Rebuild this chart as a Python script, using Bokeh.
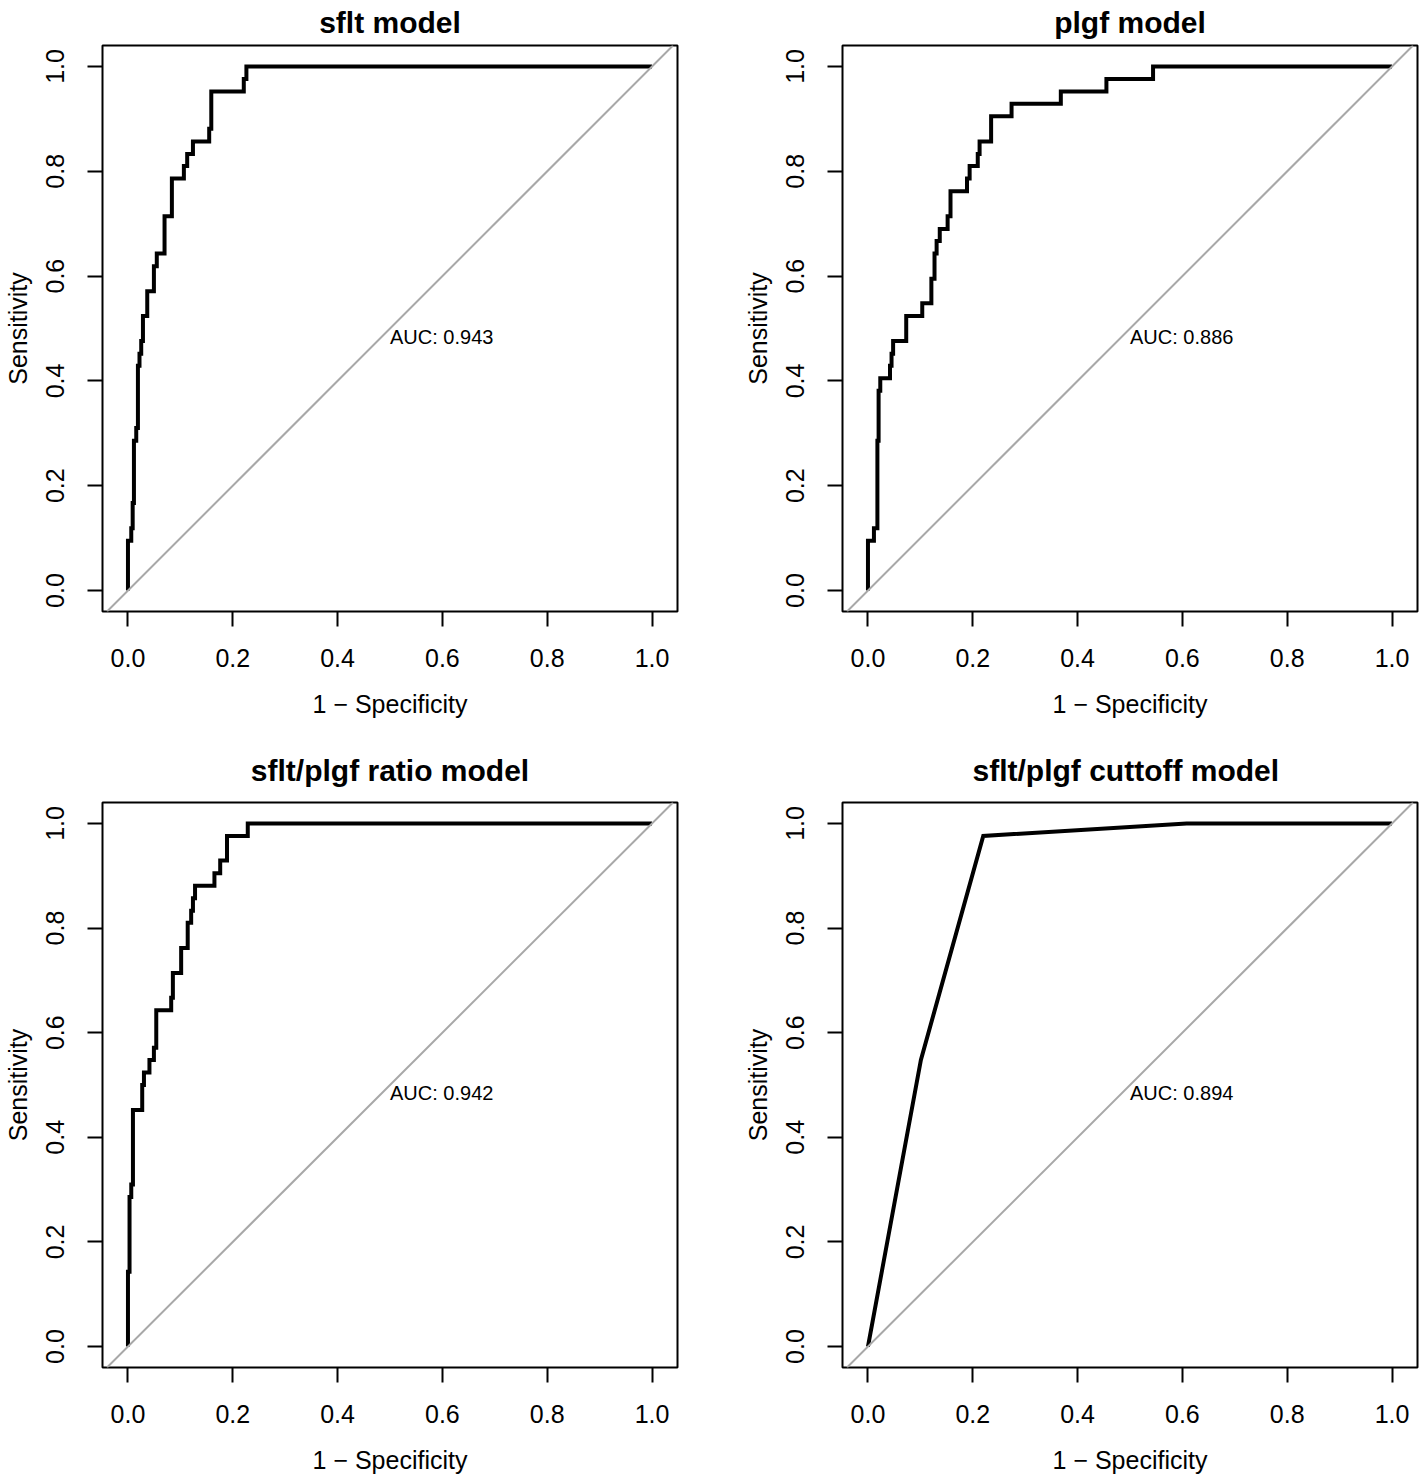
from bokeh.plotting import figure
from bokeh.models import Range1d, FixedTicker, PrintfTickFormatter, Slope, Label
from bokeh.layouts import column, row
from bokeh.embed import file_html
from bokeh.resources import INLINE

FONT = "Liberation Sans"

# ---------------- data ----------------
titles = ["sflt model", "plgf model", "sflt/plgf ratio model", "sflt/plgf cuttoff  model"]
auc_values = [0.943, 0.886, 0.942, 0.894]
tick_values = [0.0, 0.2, 0.4, 0.6, 0.8, 1.0]
x_label = "1 \u2212 Specificity"
y_label = "Sensitivity"

sflt_fpr = [0, 0, 0.0063, 0.009, 0.0114, 0.0158, 0.019, 0.022, 0.0253, 0.0286, 0.0368,
            0.0495, 0.055, 0.0698, 0.0838, 0.1067, 0.113, 0.124, 0.155, 0.159, 0.221, 0.226, 1.0]
sflt_tpr = [0, 0.095, 0.119, 0.167, 0.286, 0.310, 0.429, 0.452, 0.476, 0.524, 0.571,
            0.619, 0.643, 0.714, 0.786, 0.810, 0.833, 0.857, 0.881, 0.952, 0.976, 1.0, 1.0]

plgf_fpr = [0, 0, 0.0114, 0.018, 0.0203, 0.0235, 0.042, 0.045, 0.048, 0.073, 0.1036, 0.121,
            0.127, 0.131, 0.137, 0.152, 0.1575, 0.189, 0.194, 0.2095, 0.213, 0.235, 0.274,
            0.368, 0.455, 0.544, 1.0]
plgf_tpr = [0, 0.095, 0.119, 0.286, 0.381, 0.405, 0.429, 0.452, 0.476, 0.524, 0.548, 0.595,
            0.643, 0.667, 0.690, 0.714, 0.762, 0.786, 0.810, 0.833, 0.857, 0.905, 0.929,
            0.952, 0.976, 1.0, 1.0]

ratio_fpr = [0, 0, 0.003, 0.0063, 0.0095, 0.0272, 0.0305, 0.041, 0.0495, 0.054, 0.0825,
             0.0857, 0.1015, 0.114, 0.1206, 0.124, 0.128, 0.165, 0.176, 0.189, 0.2286, 1.0]
ratio_tpr = [0, 0.143, 0.286, 0.310, 0.452, 0.500, 0.524, 0.548, 0.571, 0.643, 0.667,
             0.714, 0.762, 0.810, 0.833, 0.857, 0.881, 0.905, 0.929, 0.976, 1.0, 1.0]

cutoff_fpr = [0, 0.101, 0.22, 0.608, 1.0]
cutoff_tpr = [0, 0.548, 0.976, 1.0, 1.0]

# ---------------- layout constants ----------------
FRAME_H = 566
FRAME_W = 575
K = FRAME_H / 1.08  # pixels per unit (asp = 1)


def make_panel(title, fpr, tpr, auc, stepped, b_left, b_right, b_top, b_bottom,
               title_standoff, title_valign):
    half = FRAME_W / (2 * K)
    p = figure(width=b_left + FRAME_W + b_right, height=b_top + FRAME_H + b_bottom,
               x_range=Range1d(0.5 - half, 0.5 + half), y_range=Range1d(-0.04, 1.04),
               output_backend="svg", toolbar_location=None, tools="",
               min_border_left=b_left, min_border_right=b_right,
               min_border_top=b_top, min_border_bottom=b_bottom)
    p.xgrid.visible = False
    p.ygrid.visible = False
    p.outline_line_color = "black"
    p.outline_line_width = 2
    p.outline_line_alpha = 1
    p.background_fill_color = "white"
    p.border_fill_color = "white"

    p.title.text = title
    p.title.align = "center"
    p.title.vertical_align = title_valign
    p.title.text_font = FONT
    p.title.text_font_size = "30px"
    p.title.text_font_style = "bold"
    p.title.text_color = "black"
    p.title.standoff = title_standoff

    for ax in (p.xaxis[0], p.yaxis[0]):
        ax.ticker = FixedTicker(ticks=tick_values)
        ax.formatter = PrintfTickFormatter(format="%.1f")
        ax.axis_line_color = None
        ax.major_tick_line_color = "black"
        ax.major_tick_line_width = 2
        ax.major_tick_out = 15
        ax.major_tick_in = 0
        ax.minor_tick_line_color = None
        ax.major_label_text_font = FONT
        ax.major_label_text_font_size = "25px"
        ax.major_label_text_color = "black"
        ax.axis_label_text_font = FONT
        ax.axis_label_text_font_size = "25px"
        ax.axis_label_text_font_style = "normal"
        ax.axis_label_text_color = "black"
    p.xaxis.axis_label = x_label
    p.yaxis.axis_label = y_label
    p.yaxis.major_label_orientation = "vertical"
    p.xaxis.major_label_standoff = 22
    p.yaxis.major_label_standoff = 23
    p.xaxis.axis_label_standoff = 20
    p.yaxis.axis_label_standoff = 12

    p.add_layout(Slope(gradient=1, y_intercept=0, line_color="#A8A8A8", line_width=2))

    if stepped:
        p.step(fpr, tpr, mode="after", line_color="black", line_width=4, line_join="miter")
    else:
        p.line(fpr, tpr, line_color="black", line_width=4, line_join="miter")

    p.add_layout(Label(x=0.5, y=0.5, y_offset=3, text=f"AUC: {auc:.3f}", text_align="left",
                       text_baseline="top", text_font=FONT, text_font_size="20px",
                       text_color="black"))
    return p


p1 = make_panel(titles[0], sflt_fpr, sflt_tpr, auc_values[0], True, 102, 45, 45, 120, 9, "top")
p2 = make_panel(titles[1], plgf_fpr, plgf_tpr, auc_values[1], True, 120, 7, 45, 120, 9, "top")
p3 = make_panel(titles[2], ratio_fpr, ratio_tpr, auc_values[2], True, 102, 45, 71, 108, 32, "bottom")
p4 = make_panel(titles[3], cutoff_fpr, cutoff_tpr, auc_values[3], False, 120, 7, 71, 108, 32, "bottom")

layout = column(row(p1, p2), row(p3, p4))

open("out.html", "w").write(file_html(layout, INLINE))
